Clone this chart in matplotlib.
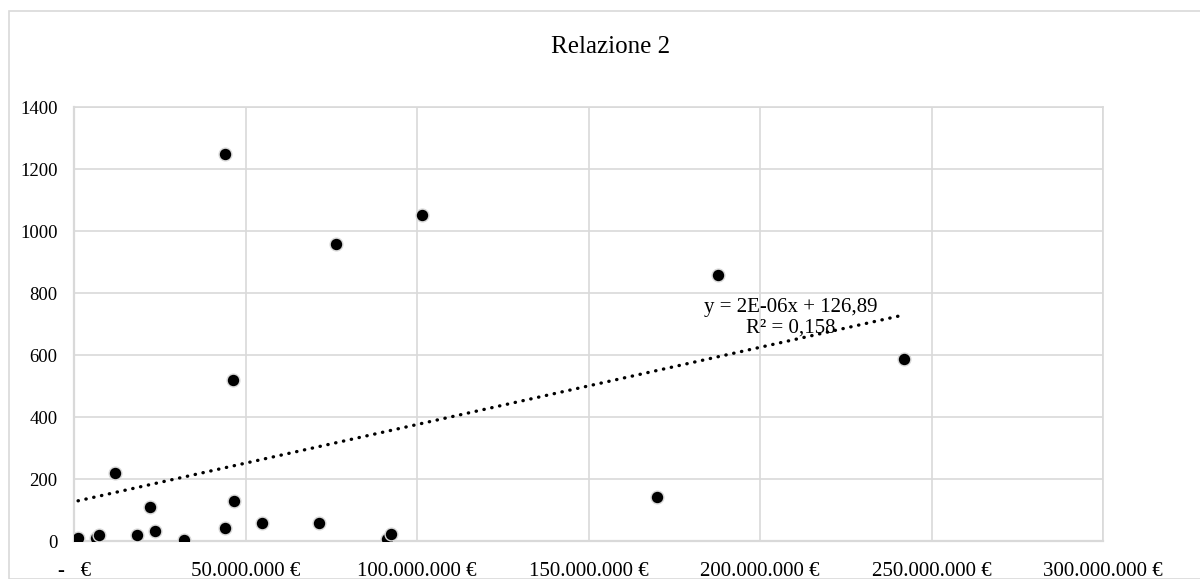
import numpy as np
import matplotlib
matplotlib.use("Agg")
import matplotlib.pyplot as plt
from matplotlib.patches import Rectangle
from matplotlib.ticker import FuncFormatter

plt.rcParams["font.family"] = ["Liberation Serif", "DejaVu Serif"]

# spesa (euro) vs valore
spesa = np.array([1.1, 6.4, 7.1, 11.9, 18.4, 22.2, 23.6, 32.1, 43.9, 43.9, 46.4,
                  46.6, 54.8, 71.5, 76.4, 91.2, 92.5, 101.3, 170.0, 187.8, 241.9]) * 1e6
valore = np.array([9, 11, 19, 218, 20, 110, 32, 3, 43, 1247, 520,
                   128, 57, 58, 957, 7, 24, 1052, 142, 858, 586])

x_ticks = [0, 50e6, 100e6, 150e6, 200e6, 250e6, 300e6]
y_ticks = [0, 200, 400, 600, 800, 1000, 1200, 1400]

# linea di tendenza lineare
pendenza = 2.49e-6
intercetta = 126.89
r2 = 0.158

grid_col = "#d9d9d9"

fig = plt.figure(figsize=(12, 5.79), dpi=100)
ax = fig.add_axes([74.3 / 1200, 1 - 541 / 579, (1103 - 74.3) / 1200, (541 - 107) / 579])

# cornice del grafico
fig.patches.append(Rectangle((9 / 1200, 0.0), 1.2, 1 - 10.5 / 579, transform=fig.transFigure,
                             fill=False, edgecolor=grid_col, linewidth=1.2))

ax.scatter(spesa, valore, s=85, color="black", edgecolors=grid_col, linewidths=1.0, zorder=3)

xt = np.array([spesa.min(), spesa.max()])
ax.plot(xt, pendenza * xt + intercetta, color="black", linewidth=2.4,
        linestyle=(0, (0.1, 2.3)), dash_capstyle="round", zorder=2)

eq = "y = {}x + {}\nR² = {}".format(
    f"{pendenza:.0E}",
    f"{intercetta:.2f}".replace(".", ","),
    f"{r2:.3f}".replace(".", ","))
ax.text(209e6, 721, eq, ha="center", va="center", fontsize=15, linespacing=1.1, zorder=4)

ax.set_xlim(0, 300e6)
ax.set_ylim(0, 1400)
ax.set_xticks(x_ticks)
ax.set_yticks(y_ticks)


def euro(v, pos):
    if v == 0:
        return "-   €"
    return f"{int(v):,}".replace(",", ".") + " €"


ax.xaxis.set_major_formatter(FuncFormatter(euro))
ax.tick_params(axis="both", length=0, colors="black")
ax.tick_params(axis="x", pad=15, labelsize=15)
ax.tick_params(axis="y", pad=12, labelsize=13.5)

ax.grid(True, color=grid_col, linewidth=1.2)
ax.set_axisbelow(True)
for s in ax.spines.values():
    s.set_color(grid_col)
    s.set_linewidth(1.2)
ax.spines["left"].set_linewidth(1.6)
ax.spines["bottom"].set_linewidth(1.6)

fig.text(611 / 1200, 1 - 47 / 579, "Relazione 2", ha="center", va="center", fontsize=18)

fig.savefig("out.png", dpi=100)
